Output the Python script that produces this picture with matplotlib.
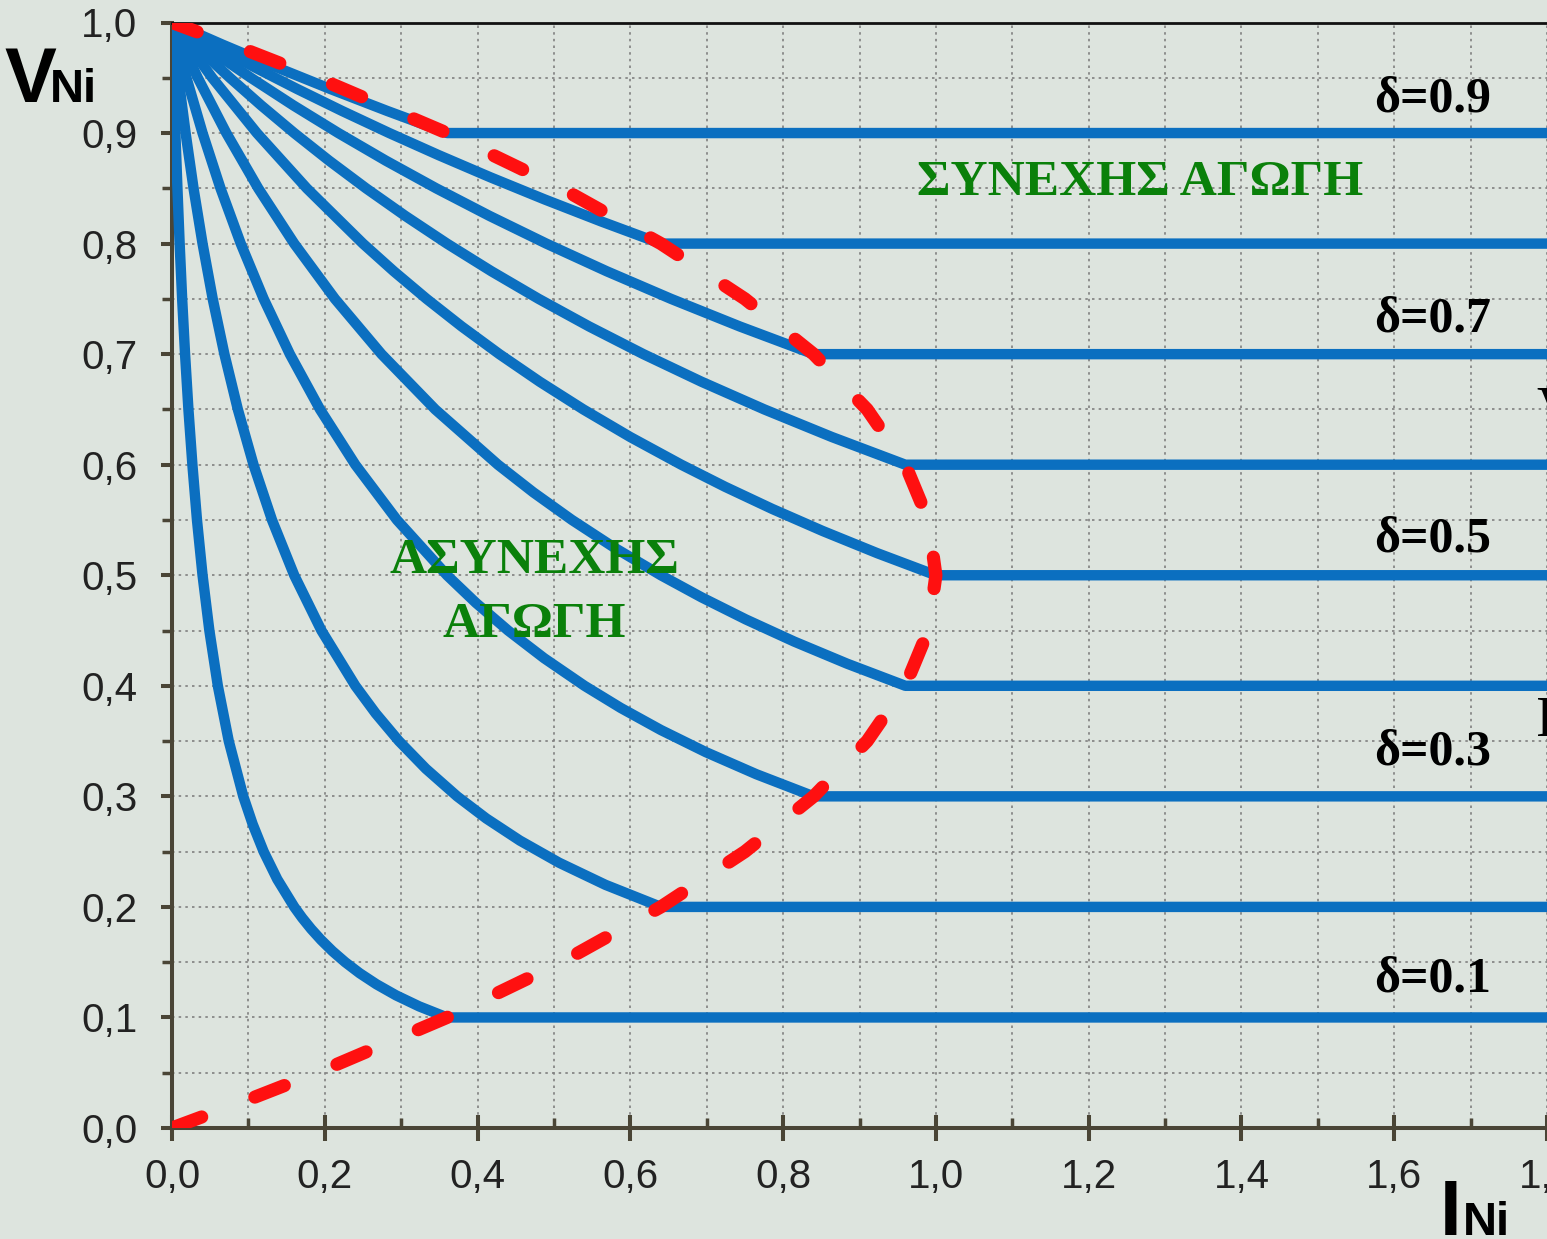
import numpy as np
import matplotlib.pyplot as plt
from matplotlib.ticker import MultipleLocator

# duty cycles and the curves (I_N, V_N)
deltas = [0.1, 0.2, 0.3, 0.4, 0.5, 0.6, 0.7, 0.8, 0.9]
curve_v = [
    [1, 0.95, 0.9, 0.85, 0.8, 0.75, 0.7, 0.65, 0.6, 0.55, 0.5, 0.45, 0.4, 0.35, 0.3, 0.275,
     0.25, 0.225, 0.2, 0.19, 0.18, 0.17, 0.16, 0.15, 0.14, 0.13, 0.12, 0.11, 0.1],
    [1, 0.95, 0.9, 0.85, 0.8, 0.75, 0.7, 0.65, 0.6, 0.55, 0.5, 0.45, 0.4, 0.375, 0.35, 0.325,
     0.3, 0.28, 0.26, 0.24, 0.22, 0.2],
    [1, 0.95, 0.9, 0.85, 0.8, 0.75, 0.7, 0.65, 0.6, 0.55, 0.5, 0.475, 0.45, 0.425, 0.4, 0.38,
     0.36, 0.34, 0.32, 0.3],
    [1, 0.95, 0.9, 0.85, 0.8, 0.75, 0.7, 0.65, 0.6, 0.575, 0.55, 0.525, 0.5, 0.48, 0.46, 0.44,
     0.42, 0.4],
    [1, 0.95, 0.9, 0.85, 0.8, 0.775, 0.75, 0.725, 0.7, 0.675, 0.65, 0.625, 0.6, 0.58, 0.56,
     0.54, 0.52, 0.5],
    [1, 0.975, 0.95, 0.925, 0.9, 0.875, 0.85, 0.825, 0.8, 0.775, 0.75, 0.725, 0.7, 0.675,
     0.65, 0.625, 0.6],
    [1, 0.975, 0.95, 0.925, 0.9, 0.875, 0.85, 0.825, 0.8, 0.775, 0.75, 0.725, 0.7],
    [1, 0.98, 0.96, 0.94, 0.92, 0.9, 0.88, 0.86, 0.84, 0.82, 0.8],
    [1, 0.98, 0.96, 0.94, 0.92, 0.9],
]
curve_i = [
    [0, 0.0021, 0.0044, 0.0071, 0.010, 0.0133, 0.0171, 0.0215, 0.0267, 0.0327, 0.04, 0.0489,
     0.06, 0.0743, 0.0933, 0.1055, 0.12, 0.1378, 0.16, 0.1705, 0.1822, 0.1953, 0.21, 0.2267,
     0.2457, 0.2677, 0.2933, 0.3236, 0.36],
    [0, 0.0084, 0.0178, 0.0282, 0.04, 0.0533, 0.0686, 0.0862, 0.1067, 0.1309, 0.16, 0.1956,
     0.24, 0.2667, 0.2971, 0.3323, 0.3733, 0.4114, 0.4554, 0.5067, 0.5673, 0.64],
    [0, 0.0189, 0.04, 0.0635, 0.09, 0.12, 0.1543, 0.1938, 0.24, 0.2945, 0.36, 0.3979, 0.44,
     0.4871, 0.54, 0.5874, 0.64, 0.6988, 0.765, 0.84],
    [0, 0.0337, 0.0711, 0.1129, 0.16, 0.2133, 0.2743, 0.3446, 0.4267, 0.473, 0.5236, 0.579,
     0.64, 0.6933, 0.7513, 0.8145, 0.8838, 0.96],
    [0, 0.0526, 0.1111, 0.1765, 0.25, 0.2903, 0.3333, 0.3793, 0.4286, 0.4815, 0.5385, 0.6,
     0.6667, 0.7241, 0.7857, 0.8519, 0.9231, 1.0],
    [0, 0.0369, 0.0758, 0.1168, 0.16, 0.2057, 0.2541, 0.3055, 0.36, 0.4181, 0.48, 0.5462,
     0.6171, 0.6933, 0.7754, 0.864, 0.96],
    [0, 0.0503, 0.1032, 0.1589, 0.2178, 0.28, 0.3459, 0.4158, 0.49, 0.569, 0.6533, 0.7434, 0.84],
    [0, 0.0522, 0.1067, 0.1634, 0.2226, 0.2844, 0.3491, 0.4167, 0.4876, 0.562, 0.64],
    [0, 0.0661, 0.135, 0.2068, 0.2817, 0.36],
]
i_end = 1.85

# boundary between the two modes
bound_v = [0, 0.025, 0.05, 0.1, 0.15, 0.2, 0.25, 0.3, 0.35, 0.4, 0.45, 0.5,
           0.55, 0.6, 0.65, 0.7, 0.75, 0.8, 0.85, 0.9, 0.95, 0.975, 1.0]
bound_i = [0, 0.0975, 0.19, 0.36, 0.51, 0.64, 0.75, 0.84, 0.91, 0.96, 0.99, 1.0,
           0.99, 0.96, 0.91, 0.84, 0.75, 0.64, 0.51, 0.36, 0.19, 0.0975, 0]

xticks = [0, 0.2, 0.4, 0.6, 0.8, 1.0, 1.2, 1.4, 1.6, 1.8]
xlabels = ['0,0', '0,2', '0,4', '0,6', '0,8', '1,0', '1,2', '1,4', '1,6', '1,8']
yticks = [0, 0.1, 0.2, 0.3, 0.4, 0.5, 0.6, 0.7, 0.8, 0.9, 1.0]
ylabels = ['0,0', '0,1', '0,2', '0,3', '0,4', '0,5', '0,6', '0,7', '0,8', '0,9', '1,0']

label_deltas = ['δ=0.9', 'δ=0.7', 'δ=0.5', 'δ=0.3', 'δ=0.1']
label_y = [0.930, 0.731, 0.532, 0.340, 0.134]

bg = '#dde4de'
blue = '#0b6fc0'
red = '#ff1010'
green = '#0a800a'

W, H = 1547, 1239
fig = plt.figure(figsize=(W / 100, H / 100), dpi=100, facecolor=bg)
ax = fig.add_axes([172 / W, (H - 1128) / H, 1375 / W, 1105.5 / H])
ax.set_facecolor(bg)

for d, xs, ys in zip(deltas, curve_i, curve_v):
    ax.plot(list(xs) + [i_end], list(ys) + [d], color=blue, lw=7.5,
            solid_joinstyle='round', solid_capstyle='butt', zorder=3)

ax.plot(bound_i, bound_v, color=red, lw=9.5, linestyle=(0, (2.4, 4.3)),
        dash_capstyle='round', zorder=4)

ax.set_xlim(0, 1.8)
ax.set_ylim(0, 1.0)
ax.set_xticks(xticks)
ax.set_xticklabels(xlabels)
ax.set_yticks(yticks)
ax.set_yticklabels(ylabels)
ax.xaxis.set_minor_locator(MultipleLocator(0.1))
ax.yaxis.set_minor_locator(MultipleLocator(0.05))
ax.grid(which='both', color='#808080', linestyle=(0, (1.5, 2.5)), linewidth=1.2, zorder=0)
ax.set_axisbelow(True)

for s in ['left', 'bottom']:
    ax.spines[s].set_color('#4a4536')
    ax.spines[s].set_linewidth(2.9)
ax.spines['right'].set_visible(False)
ax.spines['top'].set_color('#111111')
ax.spines['top'].set_linewidth(2)

ax.tick_params(axis='y', which='major', direction='out', length=8, width=2.9,
               color='#4a4536', pad=17, labelsize=29, labelcolor='#222222')
ax.tick_params(axis='y', which='minor', direction='out', length=7, width=2.5, color='#4a4536')
ax.tick_params(axis='x', which='major', direction='inout', length=19, width=2.9,
               color='#4a4536', pad=12, labelsize=29, labelcolor='#222222')
ax.tick_params(axis='x', which='minor', direction='in', length=7, width=2.5, color='#4a4536')
for lab in ax.get_xticklabels() + ax.get_yticklabels():
    lab.set_fontfamily('Liberation Sans')

for t, y in zip(label_deltas, label_y):
    ax.text(1.65, y, t, ha='center', va='center', fontsize=36, fontweight='bold',
            family='Liberation Serif', color='black', zorder=5)

ax.text(1.267, 0.855, 'ΣΥΝΕΧΗΣ ΑΓΩΓΗ', ha='center', va='center', fontsize=37,
        fontweight='bold', family='Liberation Serif', color=green, zorder=5)
ax.text(0.474, 0.484, 'ΑΣΥΝΕΧΗΣ\nΑΓΩΓΗ', ha='center', va='center', fontsize=37,
        fontweight='bold', family='Liberation Serif', color=green, zorder=5,
        linespacing=1.5)

# axis names
fig.text(4 / W, 1 - 102 / H, 'V', fontsize=56, fontweight='bold',
         family='Liberation Sans', va='baseline', ha='left')
fig.text(50 / W, 1 - 102 / H, 'Ni', fontsize=34, fontweight='bold',
         family='Liberation Sans', va='baseline', ha='left')
fig.text(1440 / W, 1 - 1235 / H, 'I', fontsize=56, fontweight='bold',
         family='Liberation Sans', va='baseline', ha='left')
fig.text(1463 / W, 1 - 1235 / H, 'Ni', fontsize=34, fontweight='bold',
         family='Liberation Sans', va='baseline', ha='left')

# cut-off letters at the right edge of the slide
fig.text(1536 / W, 1 - 412 / H, 'V', fontsize=40, family='Liberation Serif',
         va='center', ha='left')
fig.text(1536 / W, 1 - 722 / H, 'I', fontsize=40, family='Liberation Serif',
         va='center', ha='left')

fig.savefig('out.png', dpi=100, facecolor=bg)
